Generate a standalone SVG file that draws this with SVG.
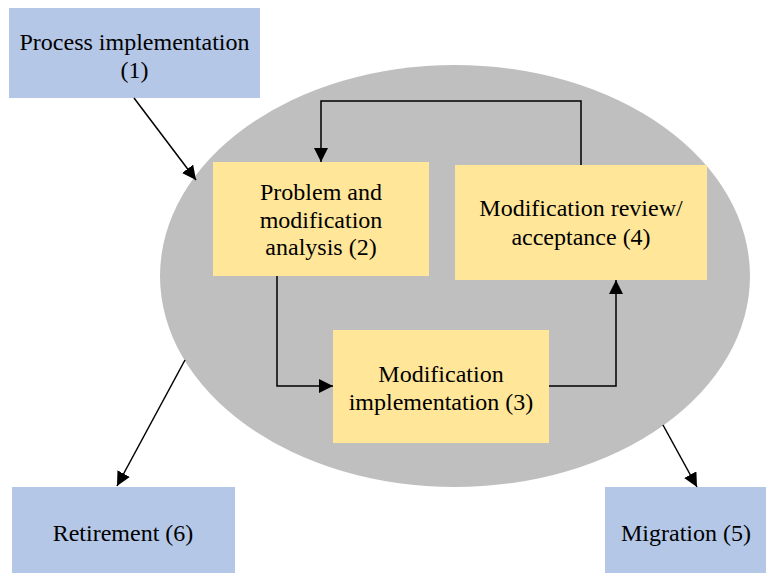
<svg xmlns="http://www.w3.org/2000/svg" width="779" height="573" viewBox="0 0 779 573">
  <style>
    .blue { fill: #b4c7e7; }
    .yellow { fill: #ffe699; }
    .lbl { fill: #000; text-anchor: middle; }
    .edge { fill: none; stroke: #000; stroke-width: 1.5; marker-end: url(#arrow); }
  </style>
  <defs>
    <marker id="arrow" viewBox="0 0 14 14" refX="14" refY="7" markerWidth="14" markerHeight="14" markerUnits="userSpaceOnUse" orient="auto">
      <path d="M0,0 L14,7 L0,14 z" fill="#000"/>
    </marker>
  </defs>
  <rect width="779" height="573" fill="#fff"/>

  <ellipse id="maintenance" cx="455" cy="276" rx="295" ry="211" fill="#bfbfbf"/>

  <g id="process-implementation">
    <rect class="blue" x="9" y="8" width="251" height="90"/>
    <text class="lbl" x="134.5" y="50" font-size="24" font-family="Liberation Serif">Process implementation</text>
    <text class="lbl" x="134.5" y="78" font-size="24" font-family="Liberation Serif">(1)</text>
  </g>

  <g id="analysis">
    <rect class="yellow" x="213" y="162" width="216" height="114"/>
    <text class="lbl" x="321" y="200" font-size="24" font-family="Liberation Serif">Problem and</text>
    <text class="lbl" x="321" y="227.5" font-size="24" font-family="Liberation Serif">modification</text>
    <text class="lbl" x="321" y="255" font-size="24" font-family="Liberation Serif">analysis (2)</text>
  </g>

  <g id="review">
    <rect class="yellow" x="455" y="165" width="252" height="115"/>
    <text class="lbl" x="581" y="216" font-size="24" font-family="Liberation Serif">Modification review/</text>
    <text class="lbl" x="581" y="245" font-size="24" font-family="Liberation Serif">acceptance (4)</text>
  </g>

  <g id="implementation">
    <rect class="yellow" x="333" y="330" width="216" height="113"/>
    <text class="lbl" x="441" y="382" font-size="24" font-family="Liberation Serif">Modification</text>
    <text class="lbl" x="441" y="410" font-size="24" font-family="Liberation Serif">implementation (3)</text>
  </g>

  <g id="retirement">
    <rect class="blue" x="12" y="487" width="223" height="86"/>
    <text class="lbl" x="123" y="541" font-size="24" font-family="Liberation Serif">Retirement (6)</text>
  </g>

  <g id="migration">
    <rect class="blue" x="605" y="487" width="161" height="86"/>
    <text class="lbl" x="686" y="541" font-size="24" font-family="Liberation Serif">Migration (5)</text>
  </g>

  <g id="connectors">
    <path class="edge" d="M134,98 L196,180"/>
    <path class="edge" d="M581,165 L581,101 L321,101 L321,162"/>
    <path class="edge" d="M277,276 L277,386 L333,386"/>
    <path class="edge" d="M549,386 L616,386 L616,280"/>
    <path class="edge" d="M185,360 L117,486"/>
    <path class="edge" d="M663,425 L697,487"/>
  </g>
</svg>
